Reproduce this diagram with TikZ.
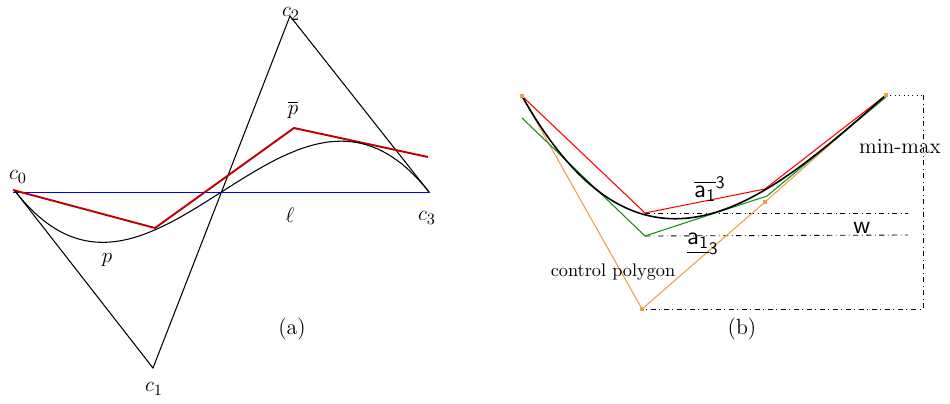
\documentclass[tikz,border=0pt]{standalone}
\usepackage{amsmath,amssymb}
\usepackage{xcolor}
\usepackage{tikz}

\definecolor{hullred}{RGB}{190,0,0}
\definecolor{ctrlorange}{RGB}{236,160,64}
\definecolor{lowgreen}{RGB}{20,140,20}

\begin{document}
\begin{tikzpicture}[x=0.02cm, y=-0.02cm, font=\fontsize{12.5}{14}\selectfont,
    frame/.style={dash dot, line width=0.5pt},
    ctrlpt/.style={fill=ctrlorange, inner sep=1.3pt, minimum size=0pt},
    sflabel/.style={font=\fontsize{14}{16}\selectfont}]
  \useasboundingbox (0,0) rectangle (950,403);

  % (a) curve, control polygon and line
  \coordinate (c0) at (15,191);
  \coordinate (c1) at (153,368);
  \coordinate (c2) at (290,16);
  \coordinate (c3) at (429,192);
  \coordinate (l0) at (13,192);
  \coordinate (l1) at (430,192);
  \coordinate (q0) at (13,190);
  \coordinate (q1) at (155,228);
  \coordinate (q2) at (294,128);
  \coordinate (q3) at (428,157);

  \draw[line width=0.6pt] (c0) -- (c1) -- (c2) -- (c3);
  \draw[blue, line width=0.5pt] (l0) -- (l1);
  \draw[hullred, line width=1.1pt] (q0) -- (q1) -- (q2) -- (q3);
  \draw[line width=0.6pt] (c0) .. controls (c1) and (c2) .. (c3);

  \node (lc0) at (18,177) {$c_0$};
  \node (lc1) at (154,389) {$c_1$};
  \node (lc2) at (291,14) {$c_2$};
  \node (lc3) at (427,218) {$c_3$};
  \node (lp) at (107,260) {$p$};
  \node (lpbar) at (293,110) {$\overline{p}$};
  \node (lell) at (290,215) {$\ell$};
  \node (la) at (292,329) {(a)};

  % (b) bounds of a cubic
  \coordinate (b0) at (522,96);
  \coordinate (b1) at (642,309);
  \coordinate (b2) at (765,202);
  \coordinate (b3) at (886,95);
  \coordinate (r1) at (645,213);
  \coordinate (r2) at (765,189);
  \coordinate (g0) at (522,118);
  \coordinate (g1) at (645,236);
  \coordinate (g2) at (767,196);
  \coordinate (g3) at (886,97);
  \coordinate (w0) at (908,213);
  \coordinate (w1) at (908,235);
  \coordinate (m0) at (923,95);
  \coordinate (m1) at (923,309);

  \draw[frame] (r1) -- (w0);
  \draw[frame] (g1) -- (w1);
  \draw[dotted, line width=0.5pt] (b3) -- (m0);
  \draw[frame] (m0) -- (m1) -- (b1);

  \draw[ctrlorange, line width=0.6pt] (b0) -- (b1) -- (b2) -- (b3);
  \draw[red, line width=0.6pt] (b0) -- (r1) -- (r2) -- (b3);
  \draw[lowgreen, line width=0.6pt] (g0) -- (g1) -- (g2) -- (g3);
  \draw[line width=0.9pt] (b0) .. controls (b1) and (b2) .. (b3);

  \foreach \p in {b0,b1,b2,b3}
    \node[ctrlpt] at (\p) {};

  \node (lmm) at (900,147) {\fontsize{12.3}{14}\selectfont min-max};
  \node[sflabel] (lw) at (862,228) {$\mathsf{w}$};
  \node[sflabel] (labar) at (710,189) {$\overline{\mathsf{a}_{\mathsf{1}}}^{\mathsf{3}}$};
  \node[sflabel] (launder) at (703,244) {$\underline{\mathsf{a}_{\mathsf{1}}}_{\mathsf{3}}$};
  \node (lcp) at (613,272) {\fontsize{10.4}{12}\selectfont control polygon};
  \node (lb) at (742,329) {(b)};
\end{tikzpicture}
\end{document}
